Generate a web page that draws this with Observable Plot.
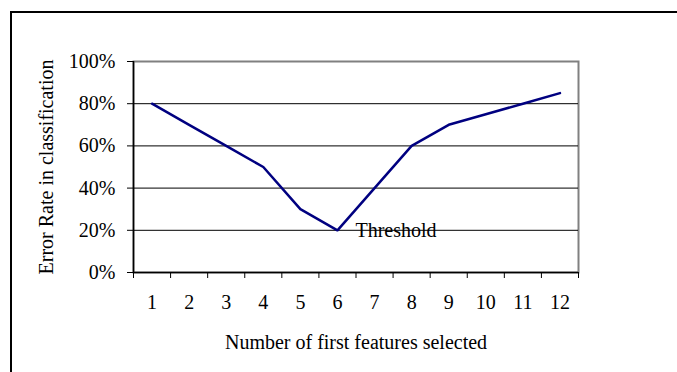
<!DOCTYPE html>
<html>
<head>
<meta charset="utf-8">
<script src="https://cdn.jsdelivr.net/npm/d3@7"></script>
<script src="https://cdn.jsdelivr.net/npm/@observablehq/plot@0.6"></script>
<style>
  html, body { margin: 0; padding: 0; background: #fff; }
  #wrap { position: relative; width: 677px; height: 372px; overflow: hidden; }
  #border { position: absolute; left: 10px; top: 11px; width: 700px; height: 400px; border: 2px solid #000; box-sizing: border-box; pointer-events: none; }
  #chart { position: absolute; left: 0; top: 0; }
</style>
</head>
<body>
<div id="wrap"><div id="chart"></div><div id="border"></div></div>
<script>
const features = [1, 2, 3, 4, 5, 6, 7, 8, 9, 10, 11, 12];
const errorRate = [0.80, 0.70, 0.60, 0.50, 0.30, 0.20, 0.40, 0.60, 0.70, 0.75, 0.80, 0.85];
const yTicks = [0, 0.2, 0.4, 0.6, 0.8, 1.0];
const gridValues = [0.2, 0.4, 0.6, 0.8];
const annotationX = [6];
const annotationY = [0.20];
const annotationText = ["Threshold"];
const xTitle = "Number of first features selected";
const yTitle = "Error Rate in classification";

const data = features.map((f, i) => ({feature: f, rate: errorRate[i]}));
const edges = features.map(f => f - 0.5).concat([features[features.length - 1] + 0.5]);
const notes = annotationText.map((t, i) => ({x: annotationX[i], y: annotationY[i], text: t}));

const chart = Plot.plot({
  width: 677,
  height: 372,
  marginLeft: 133,
  marginRight: 99,
  marginTop: 61,
  marginBottom: 100,
  style: {fontFamily: "'Liberation Serif', 'Times New Roman', serif", fontSize: "20px", color: "#000", background: "transparent"},
  x: {domain: [0.5, 12.5]},
  y: {domain: [0, 1]},
  marks: [
    Plot.frame({stroke: "#808080", strokeWidth: 2}),
    Plot.ruleY(gridValues, {stroke: "#000", strokeWidth: 1}),
    Plot.ruleX([0.5], {stroke: "#000", strokeWidth: 1.5}),
    Plot.ruleY([0], {stroke: "#000", strokeWidth: 1.5}),
    Plot.axisY({ticks: yTicks, tickFormat: d3.format(".0%"), tickSize: 6, tickPadding: 12, label: null, stroke: "#000", fontSize: 20}),
    Plot.axisX({ticks: edges, tickFormat: () => "", tickSize: 6, label: null, stroke: "#000"}),
    Plot.axisX({ticks: features, tickFormat: d3.format("d"), tickSize: 0, tickPadding: 22, label: null, fontSize: 20}),
    Plot.line(data, {x: "feature", y: "rate", stroke: "#000080", strokeWidth: 2.5}),
    Plot.text(notes, {x: "x", y: "y", text: "text", textAnchor: "start", lineAnchor: "middle", dx: 18, fontSize: 20, fill: "#000"}),
    Plot.text([xTitle], {frameAnchor: "bottom", textAnchor: "middle", lineAnchor: "middle", dy: 70, fontSize: 20, fill: "#000"}),
    Plot.text([yTitle], {frameAnchor: "left", rotate: -90, textAnchor: "middle", lineAnchor: "middle", dx: -87, fontSize: 20, fill: "#000"})
  ]
});
document.getElementById("chart").appendChild(chart);
</script>
</body>
</html>
